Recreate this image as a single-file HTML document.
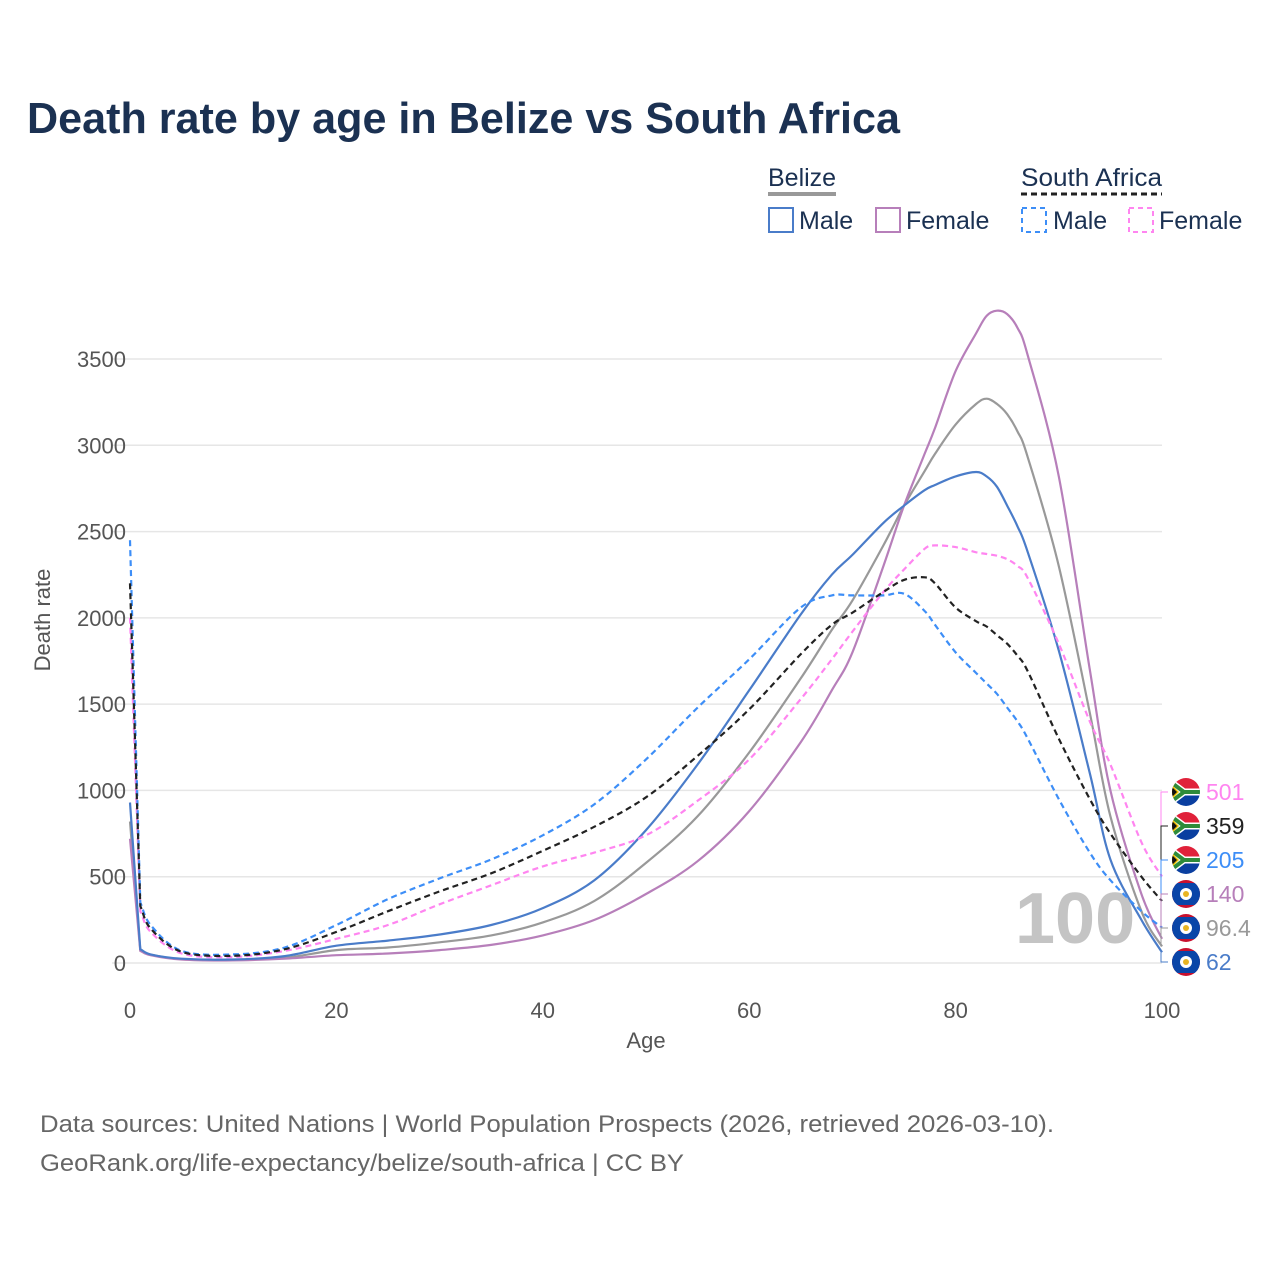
<!DOCTYPE html>
<html><head><meta charset="utf-8"><style>
body{margin:0;background:#fff;font-family:"Liberation Sans",sans-serif}
svg{display:block}
</style></head><body>
<svg width="1280" height="1280" viewBox="0 0 1280 1280">
<defs id="defs"></defs>
<text x="27" y="133" font-size="44" font-weight="bold" fill="#1b3152" textLength="873" lengthAdjust="spacingAndGlyphs">Death rate by age in Belize vs South Africa</text>
<g font-size="25" fill="#1b3152">
<text x="768" y="186">Belize</text>
<line x1="768" y1="194" x2="836" y2="194" stroke="#999" stroke-width="4"/>
<text x="1021" y="186" textLength="141" lengthAdjust="spacingAndGlyphs">South Africa</text>
<line x1="1021" y1="194" x2="1162" y2="194" stroke="#222" stroke-width="3" stroke-dasharray="6,4"/>
<rect x="769" y="208" width="24" height="24" fill="none" stroke="#4a7cc9" stroke-width="2"/>
<text x="799" y="229">Male</text>
<rect x="876" y="208" width="24" height="24" fill="none" stroke="#b77fba" stroke-width="2"/>
<text x="906" y="229">Female</text>
<rect x="1022" y="208" width="24" height="24" fill="none" stroke="#3d8ef7" stroke-width="2" stroke-dasharray="5,4"/>
<text x="1053" y="229">Male</text>
<rect x="1129" y="208" width="24" height="24" fill="none" stroke="#ff85f0" stroke-width="2" stroke-dasharray="5,4"/>
<text x="1159" y="229">Female</text>
</g>
<g id="grid"></g>
<text x="1015" y="943" font-size="72" font-weight="bold" fill="#c4c4c4">100</text>
<g id="lines"></g>
<g id="ends"></g>
<text x="646" y="1048" font-size="22" fill="#555" text-anchor="middle">Age</text>
<text transform="translate(50,620) rotate(-90)" font-size="22" fill="#555" text-anchor="middle">Death rate</text>
<g font-size="24" fill="#666">
<text x="40" y="1132" textLength="1014" lengthAdjust="spacingAndGlyphs">Data sources: United Nations | World Population Prospects (2026, retrieved 2026-03-10).</text>
<text x="40" y="1171" textLength="644" lengthAdjust="spacingAndGlyphs">GeoRank.org/life-expectancy/belize/south-africa | CC BY</text>
</g>
</svg>
<script>
const ages=[0,1,2,5,10,15,20,25,30,35,40,45,50,55,60,65,68,70,73,75,77,78,80,82,83,84,85,86,87,90,93,95,98,100];
const belizeMale=[930,80,50,25,20,40,100,130,165,220,318,480,770,1150,1580,2020,2250,2365,2550,2650,2740,2770,2820,2845,2820,2760,2650,2530,2380,1810,1100,600,250,62];
const belizeFemale=[720,70,45,20,15,25,45,55,75,105,160,250,400,590,880,1280,1580,1800,2300,2650,2950,3100,3430,3650,3750,3780,3760,3680,3520,2820,1700,1000,400,140];
const belizeTotal=[820,75,48,22,18,30,75,90,120,160,235,360,580,850,1220,1650,1930,2100,2420,2650,2850,2950,3120,3240,3270,3240,3180,3080,2930,2300,1450,850,300,96.4];
const saMale=[2450,350,220,70,50,90,220,370,490,600,740,920,1180,1480,1760,2060,2130,2130,2130,2140,2040,1960,1800,1680,1620,1560,1480,1400,1300,950,640,480,300,205];
const saFemale=[2000,300,180,55,35,70,140,220,340,450,560,640,740,940,1180,1530,1760,1920,2150,2280,2400,2420,2410,2380,2370,2360,2340,2300,2230,1850,1400,1150,700,501];
const saTotal=[2200,330,200,65,42,80,180,300,415,520,650,790,960,1200,1470,1790,1960,2030,2150,2220,2235,2200,2060,1980,1950,1900,1850,1780,1690,1300,950,750,500,359];
const yTicks=[0,500,1000,1500,2000,2500,3000,3500];
const xTicks=[0,20,40,60,80,100];
const endLabels=["501","359","205","140","96.4","62"];
const NS="http://www.w3.org/2000/svg";
const X=a=>130+a*10.32;
const Y=v=>963-v*0.17257;
function mk(tag,attrs,parent){const e=document.createElementNS(NS,tag);for(const k in attrs)e.setAttribute(k,attrs[k]);parent.appendChild(e);return e;}
const grid=document.getElementById('grid');
yTicks.forEach(t=>{
 const l=mk('line',{x1:112,x2:1162,y1:Y(t),y2:Y(t),stroke:'#e6e6e6','stroke-width':1.5},grid);
 
 
 const tx=mk('text',{x:126,y:Y(t)+8,'font-size':22,fill:'#555','text-anchor':'end'},grid);
 tx.textContent=t;
 
 
});
xTicks.forEach(t=>{
 const tx=mk('text',{x:X(t),y:1018,'font-size':22,fill:'#555','text-anchor':'middle'},grid);
 tx.textContent=t;
 
 
});
function pathFor(vals){
 const p=ages.map((a,i)=>[X(a),Y(vals[i])]);
 let d='M'+p[0][0]+','+p[0][1];
 for(let i=0;i<p.length-1;i++){
  const p0=p[Math.max(i-1,0)],p1=p[i],p2=p[i+1],p3=p[Math.min(i+2,p.length-1)];
  let c1=[p1[0]+(p2[0]-p0[0])/6,p1[1]+(p2[1]-p0[1])/6];
  let c2=[p2[0]-(p3[0]-p1[0])/6,p2[1]-(p3[1]-p1[1])/6];
  if(i===0){c1=[p1[0],p1[1]];c2=[p2[0],p2[1]];}
  if(i===1){c1=[p1[0]+(p2[0]-p1[0])/3,p1[1]+(p2[1]-p1[1])/3];}
  d+=' C'+c1[0].toFixed(1)+','+c1[1].toFixed(1)+' '+c2[0].toFixed(1)+','+c2[1].toFixed(1)+' '+p2[0].toFixed(1)+','+p2[1].toFixed(1);
 }
 return d;
}
const lines=document.getElementById('lines');
const series=[
 [belizeTotal,'#999',null,'line-belize-total'],
 [belizeFemale,'#b77fba',null,'line-belize-female'],
 [belizeMale,'#4a7cc9',null,'line-belize-male'],
 [saFemale,'#ff85f0','6,4','line-sa-female'],
 [saMale,'#3d8ef7','6,4','line-sa-male'],
 [saTotal,'#222','6,4','line-sa-total']];
series.forEach(s=>{
 const a={d:pathFor(s[0]),fill:'none',stroke:s[1],'stroke-width':2.2};
 if(s[2])a['stroke-dasharray']=s[2];
 const el=mk('path',a,lines);
 
 
});
const ends=document.getElementById('ends');
const defs=document.getElementById('defs');
const endVals=[saFemale,saTotal,saMale,belizeFemale,belizeTotal,belizeMale];
const endCols=['#ff85f0','#222','#3d8ef7','#b77fba','#999','#4a7cc9'];
endLabels.forEach((lab,i)=>{
 const y=792+i*34;const vy=Y(endVals[i][endVals[i].length-1]);
 const br=mk('path',{d:`M1168,${y} H1161 V${vy}`,fill:'none',stroke:endCols[i],'stroke-width':1},ends);
 
 
 const cp=mk('clipPath',{id:'fc'+i},defs);
 mk('circle',{cx:1186,cy:y,r:14},cp);
 const g=mk('g',{'clip-path':`url(#fc${i})`},ends);
 
 
 if(i<3){
  mk('rect',{x:1170,y:y,width:32,height:16,fill:'#0a3fa0'},g);
  mk('rect',{x:1170,y:y-16,width:32,height:16,fill:'#e0213a'},g);
  mk('path',{d:`M1168,${y-12} L1184,${y} L1202,${y} M1168,${y+12} L1184,${y}`,stroke:'#fff',"stroke-width":7,fill:'none'},g);
  mk('path',{d:`M1168,${y-12} L1184,${y} L1202,${y} M1168,${y+12} L1184,${y}`,stroke:'#2e8b3a',"stroke-width":4,fill:'none'},g);
  mk('path',{d:`M1170,${y-9} L1179,${y} L1170,${y+9} Z`,fill:'#f2c200'},g);
  mk('path',{d:`M1170,${y-7} L1177,${y} L1170,${y+7} Z`,fill:'#111'},g);
 }else{
  mk('rect',{x:1170,y:y-16,width:32,height:32,fill:'#c8102e'},g);
  mk('rect',{x:1170,y:y-11,width:32,height:22,fill:'#0a45a8'},g);
  mk('circle',{cx:1186,cy:y,r:6,fill:'#fff'},g);
  mk('circle',{cx:1186,cy:y,r:3,fill:'#e8b423'},g);
 }
 const t=mk('text',{x:1206,y:y+8,'font-size':23,fill:endCols[i]},ends);
 t.textContent=lab;
 
 
});
</script>
</body></html>
